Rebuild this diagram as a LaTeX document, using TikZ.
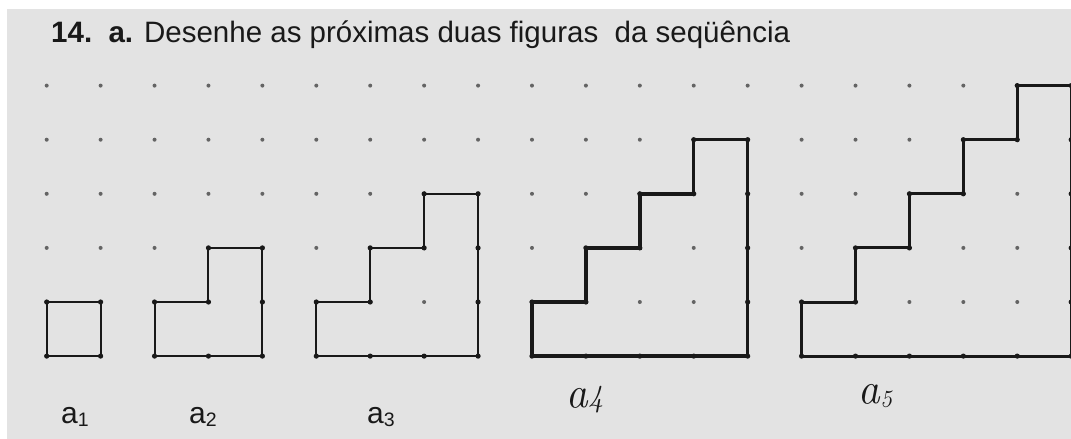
\documentclass[tikz,border=0pt]{standalone}
\usepackage{fontspec}
\setmainfont{Liberation Sans}
\newfontfamily\handfont{Latin Modern Roman}
\definecolor{paper}{RGB}{227,227,227}
\definecolor{dotgray}{RGB}{100,100,100}
\definecolor{ink}{RGB}{25,25,25}
\begin{document}
\begin{tikzpicture}[x=1pt,y=-1pt,
  edge/.style={draw=ink, line width=2pt, line join=miter},
  thickedge/.style={draw=ink, line width=3.4pt, line join=miter},
  midedge/.style={draw=ink, line width=3pt, line join=miter},
  lbl/.style={anchor=base west, inner sep=0pt, text=ink, font=\fontsize{30}{30}\selectfont},
  hand/.style={anchor=base west, inner sep=0pt, text=ink, font=\handfont\itshape}]
\useasboundingbox (0,0) rectangle (1071,439);
\fill[white] (0,0) rectangle (1071,439);
\fill[paper] (7,9) rectangle (1071,439);
% grid points
\begin{scope}[shift={(46.7,85.6)}, x=53.92pt, y=-54.1pt]
  \foreach \k in {0,...,19}{\foreach \j in {0,...,5}{\coordinate (g-\k-\j) at (\k,\j);}}
\end{scope}
\foreach \k in {0,...,19}{\foreach \j in {0,...,5}{\fill[dotgray] (g-\k-\j) circle (2pt);}}
% title
\node[anchor=base west, inner sep=0pt, text=ink, font=\fontsize{29.5}{30}\selectfont] (title) at (51,42.7)
  {\textbf{14.}\ \ \textbf{a.} Desenhe as próximas duas figuras\ \ da seqüência};
% figures
\draw[edge] (g-0-4) -- (g-1-4) -- (g-1-5) -- (g-0-5) -- cycle;
\draw[edge] (g-2-4) -- (g-3-4) -- (g-3-3) -- (g-4-3) -- (g-4-5) -- (g-2-5) -- cycle;
\draw[edge] (g-5-4) -- (g-6-4) -- (g-6-3) -- (g-7-3) -- (g-7-2) -- (g-8-2) -- (g-8-5) -- (g-5-5) -- cycle;
\draw[thickedge] (g-9-4) -- (g-10-4) -- (g-10-3) -- (g-11-3) -- (g-11-2) -- (g-12-2) -- (g-12-1) -- (g-13-1) -- (g-13-5) -- (g-9-5) -- cycle;
\draw[midedge] (g-14-4) -- (g-15-4) -- (g-15-3) -- (g-16-3) -- (g-16-2) -- (g-17-2) -- (g-17-1) -- (g-18-1) -- (g-18-0) -- (g-19-0) -- (g-19-5) -- (g-14-5) -- cycle;
% heavy points on the figures
\foreach \p in {0-4,1-4,0-5,1-5, 2-4,3-4,3-3,4-3,4-4,4-5,3-5,2-5,
  5-4,6-4,6-3,7-3,7-2,8-2,8-3,8-4,8-5,7-5,6-5,5-5,
  9-4,10-4,10-3,11-3,11-2,12-2,12-1,13-1,13-2,13-3,13-4,13-5,12-5,11-5,10-5,9-5,
  14-4,15-4,15-3,16-3,16-2,17-2,17-1,18-1,18-0,19-0,19-1,19-2,19-3,19-4,19-5,18-5,17-5,16-5,15-5,14-5}
  {\fill[ink] (g-\p) circle (2.6pt);}
% labels
\node[lbl] (a1) at (61,423) {a\raisebox{-3.3pt}{\fontsize{19.5}{20}\selectfont 1}};
\node[lbl] (a2) at (189,423) {a\raisebox{-3.3pt}{\fontsize{19.5}{20}\selectfont 2}};
\node[lbl] (a3) at (367,423) {a\raisebox{-3.3pt}{\fontsize{19.5}{20}\selectfont 3}};
\node[hand, rotate=3] (a4) at (566,409) {{\fontsize{44}{44}\selectfont a}{\fontsize{31}{31}\selectfont 4}};
\node[hand, rotate=3] (a5) at (858,405) {{\fontsize{44}{44}\selectfont a}\raisebox{-4pt}{\fontsize{24}{24}\selectfont 5}};
\end{tikzpicture}
\end{document}
